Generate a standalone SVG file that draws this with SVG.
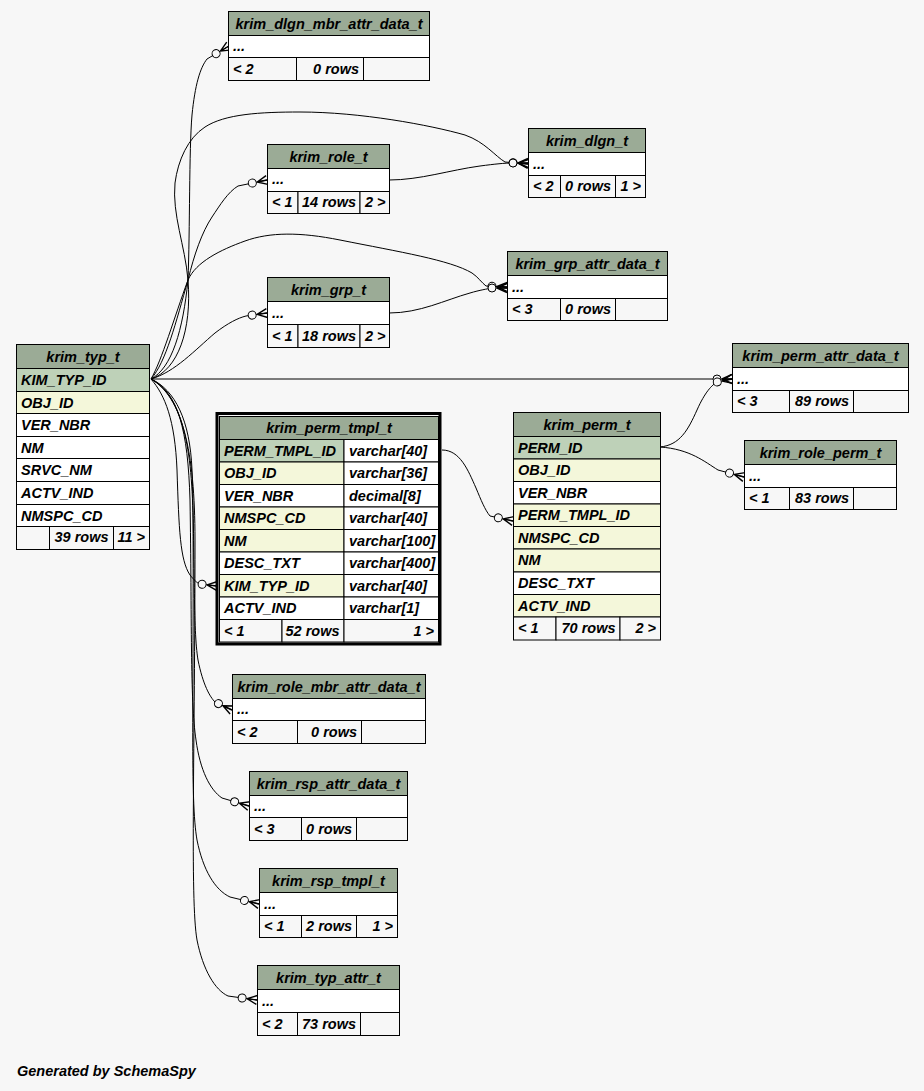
<svg xmlns="http://www.w3.org/2000/svg" width="924" height="1091" viewBox="0 0 924 1091">
<style>
.c{stroke:#000;stroke-width:1}
.h{fill:#9bab96}.pk{fill:#bed1b8}.ix{fill:#f4f7da}.w{fill:#fff}.f{fill:#f7f7f7}
text{font-family:"Liberation Sans",Arial,Helvetica,sans-serif;font-weight:bold;font-style:italic;font-size:14.5px;fill:#000}
.m{text-anchor:middle}.e{text-anchor:end}
.edge{fill:none;stroke:#000;stroke-width:1;marker-end:url(#crow)}
</style>
<defs>
<marker id="crow" markerUnits="userSpaceOnUse" orient="auto" viewBox="-22 -7 24 14" markerWidth="24" markerHeight="14" refX="0" refY="0">
<circle cx="-15" cy="0" r="4" fill="#f7f7f7" stroke="#000" stroke-width="1"/>
<path d="M-10,0 L0,-4.5 M-10,0 L0,0 M-10,0 L0,4.5" fill="none" stroke="#000" stroke-width="1.4"/>
</marker>
</defs>
<rect x="0" y="0" width="924" height="1091" fill="#f7f7f7"/>
<g id="connectors">
<path class="edge" d="M151,379 C172,368 183,330 188,280 C190,230 189,150 192,115 C195,85 200,68 207,59 L229,46"/>
<path class="edge" d="M151,379 C178,370 192,330 188,280 C185,245 172,215 175,183 C178,160 188,138 205,127 C225,114 260,112 300,112 C360,112 430,125 465,135 C485,142 495,156 505,162 L528,164"/>
<path class="edge" d="M151,379 C166,362 176,322 188,280 C194,255 202,232 212,217 C220,205 228,192 238,186 L267,180"/>
<path class="edge" d="M151,379 C162,360 174,318 188,280 C196,262 220,250 245,241 C270,232 300,232 340,240 C400,252 450,260 472,273 C478,277 482,283 486,286 L507,287"/>
<path class="edge" d="M151,379 C175,372 195,350 215,333 C228,323 238,318 246,316 L267,313"/>
<path class="edge" d="M151,379 L732,379"/>
<path class="edge" d="M151,379 C165,395 175,420 177,470 C179,530 180,560 190,575 C194,580 197,583 200,584 L217,586"/>
<path class="edge" d="M151,379 C175,390 190,420 192,470 C195,560 193,630 198,660 C203,685 210,697 215,702 L232,710"/>
<path class="edge" d="M151,379 C178,392 188,430 190,500 C192,620 190,700 196,740 C200,770 210,790 222,798 L249,806"/>
<path class="edge" d="M151,379 C180,395 192,440 193,520 C194,700 190,800 197,840 C203,870 215,890 230,897 L259,904"/>
<path class="edge" d="M151,379 C182,397 195,450 195,540 C195,750 190,900 197,940 C203,970 215,990 228,996 L257,1000"/>
<path class="edge" d="M389,180 C420,180 450,170 480,166 C495,164 505,163 512,163 L528,163"/>
<path class="edge" d="M389,313 C420,313 445,300 470,293 C480,290 487,289 492,288 L507,288"/>
<path class="edge" d="M660,447 C680,445 688,430 697,410 C705,392 712,385 717,382 L732,379"/>
<path class="edge" d="M660,447 C690,449 705,462 718,470 L744,477"/>
<path class="edge" d="M442,450 C460,450 468,470 476,488 C481,500 485,510 490,516 L513,521"/>
</g>
<g id="krim_dlgn_mbr_attr_data_t">
<rect class="h c" x="228.5" y="11.5" width="201" height="24"/>
<rect class="w c" x="228.5" y="35.5" width="201" height="22"/>
<rect class="f c" x="228.5" y="57.5" width="68" height="23"/>
<rect class="f c" x="296.5" y="57.5" width="67" height="23"/>
<rect class="f c" x="363.5" y="57.5" width="66" height="23"/>
<text class="m" x="329" y="29">krim_dlgn_mbr_attr_data_t</text>
<text x="233" y="51">...</text>
<text x="233" y="74">&lt; 2</text>
<text class="e" x="359" y="74">0 rows</text>
</g>
<g id="krim_role_t">
<rect class="h c" x="267.5" y="144.5" width="122" height="24"/>
<rect class="w c" x="267.5" y="168.5" width="122" height="23"/>
<rect class="f c" x="267.5" y="191.5" width="30.5" height="22"/>
<rect class="f c" x="298" y="191.5" width="62" height="22"/>
<rect class="f c" x="360" y="191.5" width="29.5" height="22"/>
<text class="m" x="328.5" y="162">krim_role_t</text>
<text x="272" y="184">...</text>
<text x="272" y="207">&lt; 1</text>
<text class="e" x="356" y="207">14 rows</text>
<text class="e" x="385.5" y="207">2 &gt;</text>
</g>
<g id="krim_dlgn_t">
<rect class="h c" x="528.5" y="128.5" width="117" height="24"/>
<rect class="w c" x="528.5" y="152.5" width="117" height="23"/>
<rect class="f c" x="528.5" y="175.5" width="32" height="22"/>
<rect class="f c" x="560.5" y="175.5" width="55" height="22"/>
<rect class="f c" x="615.5" y="175.5" width="30" height="22"/>
<text class="m" x="587" y="146">krim_dlgn_t</text>
<text x="533" y="168.5">...</text>
<text x="533" y="191">&lt; 2</text>
<text class="e" x="611" y="191">0 rows</text>
<text class="e" x="641" y="191">1 &gt;</text>
</g>
<g id="krim_grp_attr_data_t">
<rect class="h c" x="507.5" y="251.5" width="160" height="24"/>
<rect class="w c" x="507.5" y="275.5" width="160" height="23"/>
<rect class="f c" x="507.5" y="298.5" width="53" height="22"/>
<rect class="f c" x="560.5" y="298.5" width="55" height="22"/>
<rect class="f c" x="615.5" y="298.5" width="52" height="22"/>
<text class="m" x="587.5" y="269">krim_grp_attr_data_t</text>
<text x="512" y="291.5">...</text>
<text x="512" y="314">&lt; 3</text>
<text class="e" x="611" y="314">0 rows</text>
</g>
<g id="krim_grp_t">
<rect class="h c" x="267.5" y="277.5" width="122" height="24"/>
<rect class="w c" x="267.5" y="301.5" width="122" height="23"/>
<rect class="f c" x="267.5" y="324.5" width="30.5" height="23"/>
<rect class="f c" x="298" y="324.5" width="62" height="23"/>
<rect class="f c" x="360" y="324.5" width="29.5" height="23"/>
<text class="m" x="328.5" y="295">krim_grp_t</text>
<text x="272" y="317.5">...</text>
<text x="272" y="341">&lt; 1</text>
<text class="e" x="356" y="341">18 rows</text>
<text class="e" x="385.5" y="341">2 &gt;</text>
</g>
<g id="krim_perm_attr_data_t">
<rect class="h c" x="732.5" y="343.5" width="176" height="24"/>
<rect class="w c" x="732.5" y="367.5" width="176" height="23"/>
<rect class="f c" x="732.5" y="390.5" width="57" height="22"/>
<rect class="f c" x="789.5" y="390.5" width="64" height="22"/>
<rect class="f c" x="853.5" y="390.5" width="55" height="22"/>
<text class="m" x="820.5" y="361">krim_perm_attr_data_t</text>
<text x="737" y="383.5">...</text>
<text x="737" y="406">&lt; 3</text>
<text class="e" x="849" y="406">89 rows</text>
</g>
<g id="krim_role_perm_t">
<rect class="h c" x="744.5" y="440.5" width="152" height="24"/>
<rect class="w c" x="744.5" y="464.5" width="152" height="23"/>
<rect class="f c" x="744.5" y="487.5" width="45" height="22"/>
<rect class="f c" x="789.5" y="487.5" width="64" height="22"/>
<rect class="f c" x="853.5" y="487.5" width="43" height="22"/>
<text class="m" x="820.5" y="458">krim_role_perm_t</text>
<text x="749" y="480.5">...</text>
<text x="749" y="503">&lt; 1</text>
<text class="e" x="849" y="503">83 rows</text>
</g>
<g id="krim_typ_t">
<rect class="h c" x="16.5" y="344.5" width="133" height="24"/>
<rect class="pk c" x="16.5" y="368.5" width="133" height="23"/>
<rect class="ix c" x="16.5" y="391.5" width="133" height="22"/>
<rect class="w c" x="16.5" y="413.5" width="133" height="23"/>
<rect class="w c" x="16.5" y="436.5" width="133" height="22"/>
<rect class="w c" x="16.5" y="458.5" width="133" height="23"/>
<rect class="w c" x="16.5" y="481.5" width="133" height="23"/>
<rect class="w c" x="16.5" y="504.5" width="133" height="22"/>
<rect class="f c" x="16.5" y="526.5" width="33" height="23"/>
<rect class="f c" x="49.5" y="526.5" width="64" height="23"/>
<rect class="f c" x="113.5" y="526.5" width="36" height="23"/>
<text class="m" x="83" y="362">krim_typ_t</text>
<text x="21" y="384.5">KIM_TYP_ID</text>
<text x="21" y="407.5">OBJ_ID</text>
<text x="21" y="429.5">VER_NBR</text>
<text x="21" y="452.5">NM</text>
<text x="21" y="474.5">SRVC_NM</text>
<text x="21" y="497.5">ACTV_IND</text>
<text x="21" y="520.5">NMSPC_CD</text>
<text class="e" x="108.5" y="542">39 rows</text>
<text class="e" x="145" y="542">11 &gt;</text>
</g>
<g id="krim_perm_tmpl_t">
<rect x="217" y="413.5" width="223" height="230.5" fill="none" stroke="#000" stroke-width="3"/>
<rect class="h c" x="219.5" y="416.5" width="219" height="23"/>
<rect class="pk c" x="219.5" y="439.5" width="124.5" height="22.5"/>
<rect class="w c" x="344" y="439.5" width="94.5" height="22.5"/>
<rect class="ix c" x="219.5" y="462" width="124.5" height="22.5"/>
<rect class="w c" x="344" y="462" width="94.5" height="22.5"/>
<rect class="w c" x="219.5" y="484.5" width="124.5" height="22.5"/>
<rect class="w c" x="344" y="484.5" width="94.5" height="22.5"/>
<rect class="ix c" x="219.5" y="507" width="124.5" height="22.5"/>
<rect class="w c" x="344" y="507" width="94.5" height="22.5"/>
<rect class="ix c" x="219.5" y="529.5" width="124.5" height="22.5"/>
<rect class="w c" x="344" y="529.5" width="94.5" height="22.5"/>
<rect class="w c" x="219.5" y="552" width="124.5" height="22.5"/>
<rect class="w c" x="344" y="552" width="94.5" height="22.5"/>
<rect class="ix c" x="219.5" y="574.5" width="124.5" height="22.5"/>
<rect class="w c" x="344" y="574.5" width="94.5" height="22.5"/>
<rect class="w c" x="219.5" y="597" width="124.5" height="22.5"/>
<rect class="w c" x="344" y="597" width="94.5" height="22.5"/>
<rect class="f c" x="219.5" y="619.5" width="62.5" height="22.5"/>
<rect class="f c" x="282" y="619.5" width="62" height="22.5"/>
<rect class="f c" x="344" y="619.5" width="94.5" height="22.5"/>
<text class="m" x="329" y="433">krim_perm_tmpl_t</text>
<text x="224" y="455.5">PERM_TMPL_ID</text>
<text x="349" y="455.5">varchar[40]</text>
<text x="224" y="478">OBJ_ID</text>
<text x="349" y="478">varchar[36]</text>
<text x="224" y="500.5">VER_NBR</text>
<text x="349" y="500.5">decimal[8]</text>
<text x="224" y="523">NMSPC_CD</text>
<text x="349" y="523">varchar[40]</text>
<text x="224" y="545.5">NM</text>
<text x="349" y="545.5">varchar[100]</text>
<text x="224" y="568">DESC_TXT</text>
<text x="349" y="568">varchar[400]</text>
<text x="224" y="590.5">KIM_TYP_ID</text>
<text x="349" y="590.5">varchar[40]</text>
<text x="224" y="613">ACTV_IND</text>
<text x="349" y="613">varchar[1]</text>
<text x="224" y="635.5">&lt; 1</text>
<text class="e" x="339.5" y="635.5">52 rows</text>
<text class="e" x="434" y="635.5">1 &gt;</text>
</g>
<g id="krim_perm_t">
<rect class="h c" x="513.5" y="412.5" width="147" height="24"/>
<rect class="pk c" x="513.5" y="436.5" width="147" height="22.5"/>
<rect class="ix c" x="513.5" y="459" width="147" height="22.5"/>
<rect class="w c" x="513.5" y="481.5" width="147" height="22.5"/>
<rect class="ix c" x="513.5" y="504" width="147" height="22.5"/>
<rect class="ix c" x="513.5" y="526.5" width="147" height="22.5"/>
<rect class="ix c" x="513.5" y="549" width="147" height="23"/>
<rect class="w c" x="513.5" y="572" width="147" height="22.5"/>
<rect class="ix c" x="513.5" y="594.5" width="147" height="22.5"/>
<rect class="f c" x="513.5" y="617" width="42.5" height="23"/>
<rect class="f c" x="556" y="617" width="64" height="23"/>
<rect class="f c" x="620" y="617" width="40.5" height="23"/>
<text class="m" x="587" y="430">krim_perm_t</text>
<text x="518" y="452.5">PERM_ID</text>
<text x="518" y="475">OBJ_ID</text>
<text x="518" y="497.5">VER_NBR</text>
<text x="518" y="520">PERM_TMPL_ID</text>
<text x="518" y="542.5">NMSPC_CD</text>
<text x="518" y="565">NM</text>
<text x="518" y="588">DESC_TXT</text>
<text x="518" y="610.5">ACTV_IND</text>
<text x="518" y="633">&lt; 1</text>
<text class="e" x="615.5" y="633">70 rows</text>
<text class="e" x="656" y="633">2 &gt;</text>
</g>
<g id="krim_role_mbr_attr_data_t">
<rect class="h c" x="232.5" y="674.5" width="193" height="24"/>
<rect class="w c" x="232.5" y="698.5" width="193" height="22"/>
<rect class="f c" x="232.5" y="720.5" width="65" height="23"/>
<rect class="f c" x="297.5" y="720.5" width="64" height="23"/>
<rect class="f c" x="361.5" y="720.5" width="64" height="23"/>
<text class="m" x="329" y="692">krim_role_mbr_attr_data_t</text>
<text x="237" y="713.5">...</text>
<text x="237" y="737">&lt; 2</text>
<text class="e" x="357" y="737">0 rows</text>
</g>
<g id="krim_rsp_attr_data_t">
<rect class="h c" x="249.5" y="771.5" width="158" height="24"/>
<rect class="w c" x="249.5" y="795.5" width="158" height="22"/>
<rect class="f c" x="249.5" y="817.5" width="52" height="23"/>
<rect class="f c" x="301.5" y="817.5" width="55" height="23"/>
<rect class="f c" x="356.5" y="817.5" width="51" height="23"/>
<text class="m" x="328.5" y="789">krim_rsp_attr_data_t</text>
<text x="254" y="810.5">...</text>
<text x="254" y="834">&lt; 3</text>
<text class="e" x="352" y="834">0 rows</text>
</g>
<g id="krim_rsp_tmpl_t">
<rect class="h c" x="259.5" y="868.5" width="138" height="24"/>
<rect class="w c" x="259.5" y="892.5" width="138" height="23"/>
<rect class="f c" x="259.5" y="915.5" width="42" height="22"/>
<rect class="f c" x="301.5" y="915.5" width="55" height="22"/>
<rect class="f c" x="356.5" y="915.5" width="41" height="22"/>
<text class="m" x="328.5" y="886">krim_rsp_tmpl_t</text>
<text x="264" y="908.5">...</text>
<text x="264" y="931">&lt; 1</text>
<text class="e" x="352" y="931">2 rows</text>
<text class="e" x="393" y="931">1 &gt;</text>
</g>
<g id="krim_typ_attr_t">
<rect class="h c" x="257.5" y="965.5" width="142" height="24"/>
<rect class="w c" x="257.5" y="989.5" width="142" height="23"/>
<rect class="f c" x="257.5" y="1012.5" width="40" height="23"/>
<rect class="f c" x="297.5" y="1012.5" width="63" height="23"/>
<rect class="f c" x="360.5" y="1012.5" width="39" height="23"/>
<text class="m" x="328.5" y="983">krim_typ_attr_t</text>
<text x="262" y="1005.5">...</text>
<text x="262" y="1029">&lt; 2</text>
<text class="e" x="356" y="1029">73 rows</text>
</g>
<text x="17" y="1075.5">Generated by SchemaSpy</text>
</svg>
